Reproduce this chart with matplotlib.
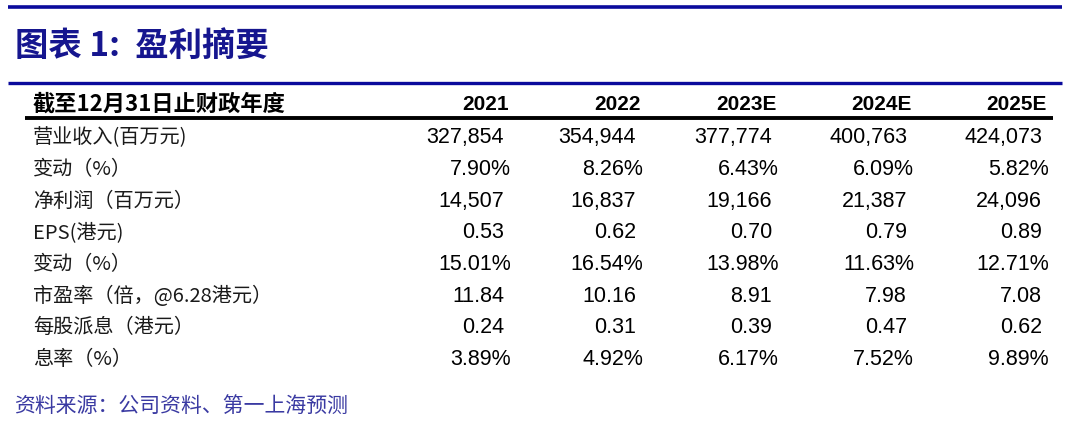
import matplotlib
matplotlib.use("Agg")
import matplotlib.pyplot as plt

# ---- data ----
title = "图表 1:  盈利摘要"
header_label = "截至12月31日止财政年度"
years = ["2021", "2022", "2023E", "2024E", "2025E"]
row_labels = ["营业收入(百万元)", "变动（%）", "净利润（百万元）", "EPS(港元)",
              "变动（%）", "市盈率（倍，@6.28港元）", "每股派息（港元）", "息率（%）"]
revenue = [327854, 354944, 377774, 400763, 424073]
revenue_growth = [7.90, 8.26, 6.43, 6.09, 5.82]
net_profit = [14507, 16837, 19166, 21387, 24096]
eps = [0.53, 0.62, 0.70, 0.79, 0.89]
eps_growth = [15.01, 16.54, 13.98, 11.63, 12.71]
pe_ratio = [11.84, 10.16, 8.91, 7.98, 7.08]
dps = [0.24, 0.31, 0.39, 0.47, 0.62]
div_yield = [3.89, 4.92, 6.17, 7.52, 9.89]
source = "资料来源：公司资料、第一上海预测"

rows = [(revenue, "int"), (revenue_growth, "pct"), (net_profit, "int"), (eps, "f2"),
        (eps_growth, "pct"), (pe_ratio, "f2"), (dps, "f2"), (div_yield, "pct")]

def fmt(v, kind):
    if kind == "int":
        return f"{v:,}"
    if kind == "pct":
        return f"{v:.2f}%"
    return f"{v:.2f}"

plt.rcParams['font.family'] = ['Noto Sans CJK SC', 'DejaVu Sans']

W, H = 1080, 429
fig = plt.figure(figsize=(W / 100, H / 100), dpi=100)
ax = fig.add_axes([0, 0, 1, 1])
ax.set_xlim(0, W)
ax.set_ylim(H, 0)
ax.axis("off")

blue = "#0A0A9C"
ax.plot([8, 1062], [7, 7], color=blue, lw=2.6, solid_capstyle="butt")
ax.plot([8, 1062], [83, 83], color=blue, lw=2.4, solid_capstyle="butt")
ax.plot([25, 1053], [118, 118], color="black", lw=2.8, solid_capstyle="butt")

ax.text(15, 46, title, fontsize=24, fontweight="bold", color="#16168F",
        ha="left", va="center", family=['Noto Sans CJK SC', 'DejaVu Sans'])

col_right = [511, 643, 779, 914, 1049]
ax.text(33, 104, header_label, fontsize=16, fontweight="bold", color="black",
        ha="left", va="center")
for x, yr in zip(col_right, years):
    ax.text(x - 2, 104, yr, fontsize=15, fontweight="bold", family="Liberation Sans",
            ha="right", va="center", color="black")

row_y0, row_dy = 138, 31.6
for i, (lab, (vals, kind)) in enumerate(zip(row_labels, rows)):
    y = row_y0 + i * row_dy
    ax.text(33, y, lab, fontsize=14.5, color="#1a1a1a", ha="left", va="center")
    for x, v in zip(col_right, vals):
        off = 0 if kind == "pct" else 7
        ax.text(x - off, y, fmt(v, kind), fontsize=15.5, family="Liberation Sans",
                ha="right", va="center", color="black")

ax.text(14, 406, source, fontsize=15, color="#3A3AA2", ha="left", va="center")

fig.savefig("out.png", dpi=100)
